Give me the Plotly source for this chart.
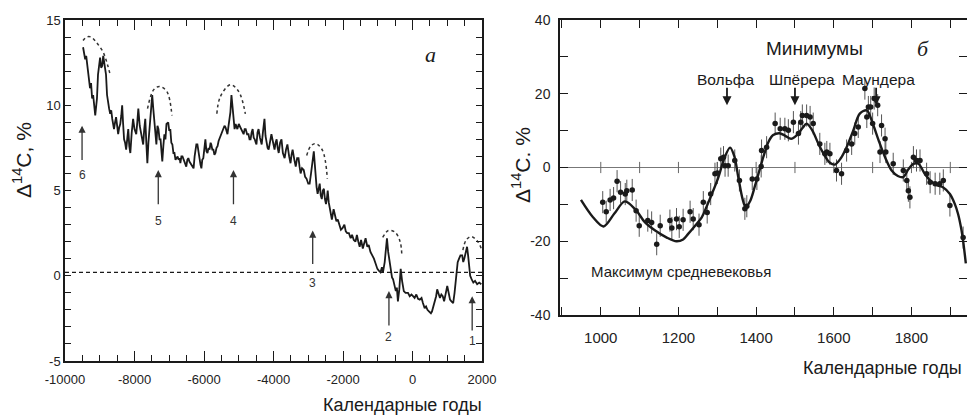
import plotly.graph_objects as go

# ---------------- Panel a: long record ----------------
a_years = [-9480, -9450, -9420, -9390, -9340, -9300, -9280, -9250, -9220, -9190, -9160, -9130, -9100, -9080,
           -9050, -9020, -8990, -8960, -8930, -8900, -8870, -8820, -8790, -8760, -8730, -8700, -8670, -8640,
           -8610, -8590, -8560, -8530, -8500, -8470, -8440, -8410, -8380, -8355, -8330, -8300, -8270, -8240,
           -8210, -8180, -8150, -8120, -8080, -8040, -8000, -7950, -7920, -7890, -7850, -7810, -7780, -7750,
           -7720, -7690, -7660, -7630, -7600, -7570, -7540, -7510, -7490, -7460, -7430, -7400, -7370, -7340,
           -7310, -7280, -7250, -7220, -7200, -7170, -7140, -7110, -7080, -7030, -7000, -6970, -6940, -6910,
           -6880, -6850, -6820, -6790, -6760, -6730, -6700, -6680, -6650, -6620, -6590, -6570, -6540, -6510,
           -6480, -6450, -6420, -6390, -6340, -6300, -6270, -6250, -6220, -6190, -6160, -6130, -6100, -6075,
           -6050, -6020, -5990, -5960, -5930, -5900, -5870, -5840, -5810, -5790, -5760, -5730, -5700, -5670,
           -5640, -5610, -5580, -5560, -5530, -5500, -5470, -5440, -5410, -5380, -5350, -5325, -5300, -5270,
           -5240, -5210, -5180, -5150, -5120, -5090, -5060, -5040, -5000, -4950, -4910, -4860, -4830, -4800,
           -4760, -4720, -4690, -4660, -4630, -4600, -4570, -4540, -4510, -4490, -4460, -4430, -4390, -4340,
           -4300, -4260, -4230, -4200, -4170, -4140, -4100, -4060, -4010, -3970, -3940, -3910, -3880, -3850,
           -3810, -3770, -3730, -3680, -3640, -3600, -3550, -3510, -3480, -3450, -3400, -3360, -3320, -3280,
           -3250, -3220, -3180, -3130, -3090, -3050, -3000, -2960, -2920, -2870, -2840, -2810, -2790, -2760,
           -2730, -2700, -2670, -2640, -2610, -2580, -2550, -2520, -2490, -2460, -2440, -2410, -2380, -2350,
           -2320, -2270, -2230, -2190, -2150, -2100, -2060, -2010, -1960, -1920, -1880, -1830, -1780, -1740,
           -1690, -1640, -1600, -1560, -1520, -1480, -1430, -1390, -1350, -1300, -1260, -1210, -1160, -1110,
           -1060, -1010, -970, -920, -880, -850, -800, -760, -735, -700, -660, -620, -590, -560, -520, -480,
           -450, -420, -380, -340, -300, -250, -200, -130, -80, -30, 15, 60, 110, 160, 210, 260, 300, 350,
           390, 430, 480, 530, 560, 600, 640, 680, 710, 750, 790, 830, 870, 910, 960, 1000, 1040, 1080, 1120,
           1170, 1210, 1255, 1300, 1340, 1380, 1430, 1460, 1490, 1530, 1570, 1600, 1630, 1660, 1700, 1750,
           1800, 1860, 1920, 1980]
a_values = [13.4, 12.9, 12.7, 12.9, 12.0, 11.6, 11.0, 11.3, 10.4, 10.6, 9.9, 9.4, 10.0, 10.4,
            11.8, 12.4, 12.8, 12.2, 12.3, 12.9, 12.5, 11.8, 10.6, 10.1, 9.8, 9.5, 9.7, 9.2,
            8.9, 8.6, 9.0, 9.3, 8.8, 8.3, 8.7, 8.9, 9.4, 10.0, 9.0, 8.0, 7.8, 7.4,
            8.0, 8.6, 7.6, 7.2, 8.4, 9.2, 8.6, 8.3, 9.0, 9.8, 8.8, 8.3, 7.9, 7.7,
            8.6, 9.2, 7.8, 6.6, 7.8, 8.6, 9.6, 10.4, 10.6, 9.8, 9.2, 8.4, 7.7, 8.8,
            8.6, 8.0, 8.0, 7.2, 6.7, 7.6, 8.3, 8.0, 8.9, 9.0, 8.5, 8.6, 7.8, 7.7,
            7.2, 7.2, 6.8, 6.9, 7.0, 6.8, 6.9, 6.6, 7.0, 7.0, 6.8, 6.7, 6.6, 6.4,
            6.8, 6.9, 6.7, 6.6, 6.4, 6.3, 7.0, 7.4, 7.7, 7.7, 7.2, 6.9, 6.5, 6.3,
            6.8, 6.9, 7.6, 8.0, 7.3, 7.2, 7.5, 7.4, 7.8, 7.7, 7.4, 7.4, 7.1, 7.2,
            7.5, 7.6, 7.9, 8.0, 8.2, 8.3, 8.4, 8.6, 8.8, 8.7, 8.4, 8.3, 8.7, 9.1,
            9.6, 10.6, 9.8, 9.2, 8.6, 8.9, 8.7, 8.6, 8.9, 8.7, 8.5, 8.3, 8.6, 8.6,
            8.3, 8.3, 8.0, 8.0, 8.4, 8.6, 8.1, 8.0, 7.8, 7.7, 8.4, 8.6, 8.1, 7.7,
            8.5, 9.2, 8.2, 7.7, 7.5, 7.4, 8.0, 8.3, 7.8, 7.4, 7.8, 8.0, 7.5, 7.2,
            7.8, 8.0, 7.2, 6.9, 7.4, 7.7, 7.0, 6.6, 7.1, 7.4, 6.8, 6.4, 6.9, 6.9,
            6.4, 6.0, 6.3, 6.2, 5.8, 5.7, 5.4, 5.4, 6.0, 7.0, 7.3, 6.5, 5.7, 5.2,
            4.8, 5.2, 5.4, 4.7, 4.5, 5.0, 5.1, 4.5, 4.2, 4.6, 5.0, 4.3, 3.9, 3.6,
            3.3, 3.9, 3.6, 3.2, 3.3, 3.0, 2.7, 2.8, 3.0, 2.6, 2.5, 2.5, 2.2, 2.4,
            2.1, 2.0, 2.4, 2.0, 1.7, 2.1, 1.6, 1.9, 2.2, 1.7, 1.8, 1.4, 1.2, 1.0,
            0.7, 0.4, 0.3, 0.2, 0.5, 0.2, 0.8, 1.6, 2.2, 1.4, 0.8, 0.2, -0.1, -0.2, -0.5, -0.9,
            -0.7, -1.5, -0.8, 0.4, -0.3, -0.9, -1.0, -1.0, -1.2, -1.1, -1.2, -1.3, -1.1, -1.35, -1.4, -1.3, -1.6, -1.9,
            -1.8, -2.0, -2.1, -2.2, -2.1, -1.8, -1.5, -1.2, -0.8, -1.0, -1.3, -1.1, -1.2, -1.5, -1.0, -0.6, -1.0, -1.4, -1.5,
            -1.6, -1.0, 0.0, 0.8, 1.0, 1.2, 1.2, 0.8, 1.0, 1.4, 1.7, 1.2, 0.5, 0.0, -0.2, -0.4,
            -0.3, -0.5, -0.4, -0.5]

# dashed envelopes over the peaks
arc_years = [
    [-9480, -9380, -9250, -9100, -8900, -8780, -8700],
    [-7625, -7452, -7279, -7067, -6923],
    [-5630, -5530, -5240, -5000, -4810],
    [-3045, -2930, -2785, -2590, -2450],
    [-857, -695, -500, -356, -307],
    [1450, 1545, 1690, 1880, 1977],
]
arc_values = [
    [13.8, 14.0, 14.0, 13.7, 13.1, 12.4, 11.8],
    [9.8, 10.9, 11.1, 10.8, 9.4],
    [9.5, 10.5, 11.2, 10.8, 9.5],
    [7.05, 7.6, 7.75, 7.35, 5.7],
    [2.25, 2.65, 2.55, 2.0, 1.2],
    [1.5, 2.1, 2.3, 2.0, 1.6],
]
ref_level = 0.2

a_tickvals = [-10000, -8000, -6000, -4000, -2000, 0, 2000]
a_ticktext = ["-10000", "-8000", "-6000", "-4000", "-2000", "0", "2000"]
a_ytickvals = [-5, 0, 5, 10, 15]
a_yticktext = ["-5", "0", "5", "10", "15"]

# numbered arrows: label, year, head value, tail value, label value
arrow_labels = ["6", "5", "4", "3", "2", "1"]
arrow_years = [-9509, -7316, -5152, -2872, -678, 1717]
arrow_heads = [8.8, 6.2, 6.2, 2.65, -0.9, -1.2]
arrow_tails = [6.7, 4.1, 4.1, 0.6, -3.0, -3.3]
arrow_text_y = [5.9, 3.2, 3.2, -0.45, -3.6, -3.8]

# ---------------- Panel b: last millennium ----------------
b_curve_years = [949, 980, 1007, 1035, 1062, 1090, 1114, 1140, 1170, 1195, 1212, 1225, 1245, 1260, 1275,
                 1286, 1303, 1318, 1333, 1344, 1354, 1365, 1373, 1385, 1397, 1408, 1419, 1432, 1444, 1460,
                 1475, 1490, 1505, 1520, 1530, 1545, 1560, 1575, 1590, 1603, 1618, 1633, 1650, 1667, 1685,
                 1700, 1715, 1732, 1749, 1765, 1779, 1792, 1805, 1818, 1833, 1848, 1865, 1882, 1899, 1912,
                 1920, 1928, 1933, 1940]
b_curve_values = [-8.8, -13.5, -16.0, -12.5, -9.2, -11.5, -14.9, -17.1, -19.0, -20.0, -19.5, -18.0, -15.5, -13.5, -10.0,
                  -7.2, -2.6, 2.5, 5.4, 3.0, -2.6, -8.5, -10.8, -9.0, -5.0, -1.0, 3.0, 7.0, 8.8, 9.3,
                  8.6, 7.8, 8.8, 10.8, 11.9, 10.0, 6.5, 3.5, 1.3, 0.8, 2.5, 5.5, 10.0, 14.6, 15.5,
                  12.0, 7.5, 2.8, -0.8, -2.3, -2.6, -0.5, 1.0, 1.0, -1.5, -3.5, -4.8, -5.4, -7.2, -10.0,
                  -12.6, -16.5, -19.9, -26.0]

b_pts_years = [1005, 1014, 1024, 1033, 1042, 1051, 1063, 1067, 1081, 1091, 1099, 1121, 1131, 1144, 1153,
               1178, 1183, 1195, 1202, 1212, 1230, 1238, 1253, 1264, 1274, 1283, 1294, 1300, 1309, 1316,
               1320, 1328, 1345, 1357, 1371, 1376, 1390, 1402, 1413, 1414, 1427, 1449, 1462, 1474, 1483,
               1496, 1509, 1515, 1519, 1530, 1539, 1547, 1564, 1577, 1582, 1590, 1607, 1620, 1633, 1646,
               1654, 1663, 1680, 1685, 1689, 1695, 1700, 1704, 1713, 1719, 1723, 1732, 1734, 1753, 1779,
               1788, 1792, 1796, 1805, 1813, 1822, 1839, 1848, 1861, 1873, 1882, 1899, 1933]
b_pts_values = [-9.4, -12.0, -8.8, -8.3, -3.7, -6.7, -7.2, -6.3, -6.1, -11.7, -15.8, -14.4, -14.9, -20.8, -15.8,
                -14.4, -16.4, -14.0, -16.1, -14.2, -12.0, -14.0, -15.5, -9.4, -12.2, -7.2, -1.7, -1.5, 2.4, 2.8,
                0.5, 0.5, 1.9, -3.5, -11.2, -10.5, -3.1, -3.1, 0.3, 4.6, 5.5, 11.9, 10.5, 10.5, 10.1,
                12.3, 9.2, 12.3, 14.1, 14.1, 13.7, 11.9, 6.4, 3.7, 4.2, 3.7, -0.8, -1.7, 4.6, 6.4,
                9.2, 11.0, 21.4, 13.7, 16.4, 16.4, 11.9, 18.7, 16.9, 4.2, 11.4, 7.8, 4.2, 1.0, -0.8,
                -3.5, -6.3, -8.1, 2.8, 1.9, 1.9, -1.7, -4.0, -4.4, -4.4, -3.5, -10.3, -19.0]
b_err = 3.0
b_zero_ticks = [1000, 1100, 1200, 1300, 1400, 1500, 1600, 1700, 1800, 1900]
b_tickvals = [1000, 1200, 1400, 1600, 1800]
b_ytickvals = [-40, -20, 0, 20, 40]
b_yticktext = ["-40", "-20", "0", "20", "40"]

minima_names = ["Вольфа", "Шпёрера", "Маундера"]
minima_label_years = [1321, 1519, 1715]
minima_arrow_years = [1325, 1500, 1709]

INK = "#1a1a1a"
FONT = "Liberation Sans"

fig = go.Figure()

# panel a traces
fig.add_trace(go.Scatter(x=a_years, y=a_values, mode="lines", xaxis="x", yaxis="y",
                         line=dict(color=INK, width=1.8), showlegend=False, hoverinfo="skip"))
for xs, ys in zip(arc_years, arc_values):
    fig.add_trace(go.Scatter(x=xs, y=ys, mode="lines", xaxis="x", yaxis="y",
                             line=dict(color="#333", width=1.5, dash="3px,3px", shape="spline", smoothing=1.0),
                             showlegend=False, hoverinfo="skip"))
fig.add_trace(go.Scatter(x=[-10000, 2000], y=[ref_level, ref_level], mode="lines", xaxis="x", yaxis="y",
                         line=dict(color=INK, width=1.3, dash="4px,3px"), showlegend=False, hoverinfo="skip"))

# panel b traces
fig.add_trace(go.Scatter(x=b_zero_ticks, y=[0] * len(b_zero_ticks), mode="markers", xaxis="x2", yaxis="y2",
                         marker=dict(symbol="line-ns", size=8, line=dict(color="#666", width=1)),
                         showlegend=False, hoverinfo="skip"))
fig.add_trace(go.Scatter(x=b_pts_years, y=b_pts_values, mode="markers", xaxis="x2", yaxis="y2",
                         marker=dict(color=INK, size=5.5),
                         error_y=dict(type="constant", value=b_err, color="#555", thickness=1, width=0),
                         showlegend=False, hoverinfo="skip"))
fig.add_trace(go.Scatter(x=b_curve_years, y=b_curve_values, mode="lines", xaxis="x2", yaxis="y2",
                         line=dict(color=INK, width=2.4, shape="spline", smoothing=0.9),
                         showlegend=False, hoverinfo="skip"))

annotations = []
for lab, xv, yh, yt, ytx in zip(arrow_labels, arrow_years, arrow_heads, arrow_tails, arrow_text_y):
    annotations.append(dict(x=xv, y=yh, ax=xv, ay=yt, xref="x", yref="y", axref="x", ayref="y",
                            showarrow=True, arrowhead=2, arrowsize=1.1, arrowwidth=1.3, arrowcolor="#333", text=""))
    annotations.append(dict(x=xv, y=ytx, xref="x", yref="y", text=lab, showarrow=False,
                            font=dict(family=FONT, size=12, color="#333")))

for name, xl, xa in zip(minima_names, minima_label_years, minima_arrow_years):
    annotations.append(dict(x=xl, y=23.9, xref="x2", yref="y2", text=name, showarrow=False,
                            font=dict(family=FONT, size=15.5, color=INK)))
    annotations.append(dict(x=xa, y=16.9, ax=xa, ay=22.0, xref="x2", yref="y2", axref="x2", ayref="y2",
                            showarrow=True, arrowhead=2, arrowsize=1.0, arrowwidth=1.8, arrowcolor=INK, text=""))

C = dict(xanchor="center", yanchor="middle", showarrow=False)
annotations += [
    dict(x=1551, y=32.4, xref="x2", yref="y2", text="Минимумы", font=dict(family=FONT, size=19, color=INK), **C),
    dict(x=1207, y=-28.3, xref="x2", yref="y2", text="Максимум средневековья",
         font=dict(family=FONT, size=15, color=INK), **C),
    dict(x=1830, y=32.4, xref="x2", yref="y2", text="<i>б</i>",
         font=dict(family="Liberation Serif", size=22, color=INK), **C),
    dict(x=512, y=13.0, xref="x", yref="y", text="<i>а</i>",
         font=dict(family="Liberation Serif", size=22, color=INK), **C),
    dict(x=22 / 967, y=1 - 160 / 416, xref="paper", yref="paper", text="Δ<sup>14</sup>C, %", textangle=-90,
         font=dict(family=FONT, size=21, color=INK), **C),
    dict(x=521 / 967, y=1 - 165 / 416, xref="paper", yref="paper", text="Δ<sup>14</sup>C. %", textangle=-90,
         font=dict(family=FONT, size=21, color=INK), **C),
    dict(x=402 / 967, y=1 - 405 / 416, xref="paper", yref="paper", text="Календарные годы",
         font=dict(family=FONT, size=18, color=INK), **C),
    dict(x=882 / 967, y=1 - 368 / 416, xref="paper", yref="paper", text="Календарные годы",
         font=dict(family=FONT, size=18, color=INK), **C),
]

axis_common = dict(showline=True, linecolor=INK, linewidth=1.5, mirror="ticks", ticks="inside",
                   tickcolor=INK, showgrid=False, zeroline=False, automargin=False)

fig.update_layout(
    width=967, height=416, margin=dict(l=0, r=0, t=0, b=0, pad=0, autoexpand=False),
    paper_bgcolor="white", plot_bgcolor="white",
    xaxis=dict(domain=[65 / 967, 482 / 967], range=[-10000, 2000], anchor="y",
               tickvals=a_tickvals, ticktext=a_ticktext, ticklen=10, tickwidth=1.3, ticklabelstandoff=6,
               minor=dict(dtick=500, tick0=0, ticklen=6, ticks="inside", tickcolor=INK),
               tickfont=dict(family=FONT, size=13, color="#222"), **axis_common),
    yaxis=dict(domain=[1 - 361 / 416, 1 - 20 / 416], range=[-5, 15], anchor="x",
               tickvals=a_ytickvals, ticktext=a_yticktext, ticklen=6, tickwidth=1.2,
               minor=dict(dtick=1, tick0=0, ticklen=6, ticks="inside", tickcolor=INK),
               tickfont=dict(family=FONT, size=13, color="#222"), **axis_common),
    xaxis2=dict(domain=[560 / 967, 1.0], range=[895, 1943], anchor="y2",
                tickvals=b_tickvals, ticklen=8, tickwidth=1.2, ticklabelstandoff=8,
                minor=dict(dtick=100, tick0=0, ticklen=8, ticks="inside", tickcolor=INK),
                tickfont=dict(family=FONT, size=15, color="#222"), **axis_common),
    yaxis2=dict(domain=[1 - 315 / 416, 1 - 20 / 416], range=[-40, 40], anchor="x2",
                tickvals=b_ytickvals, ticktext=b_yticktext, ticklen=8, tickwidth=1.2, ticklabelstandoff=5,
                minor=dict(dtick=10, tick0=0, ticklen=8, ticks="inside", tickcolor=INK),
                tickfont=dict(family=FONT, size=14, color="#222"),
                showline=True, linecolor=INK, linewidth=1.5, mirror="ticks", ticks="inside", automargin=False,
                tickcolor=INK, showgrid=False, zeroline=True, zerolinecolor="#777", zerolinewidth=1),
    annotations=annotations,
)

fig.write_html("out.html")
